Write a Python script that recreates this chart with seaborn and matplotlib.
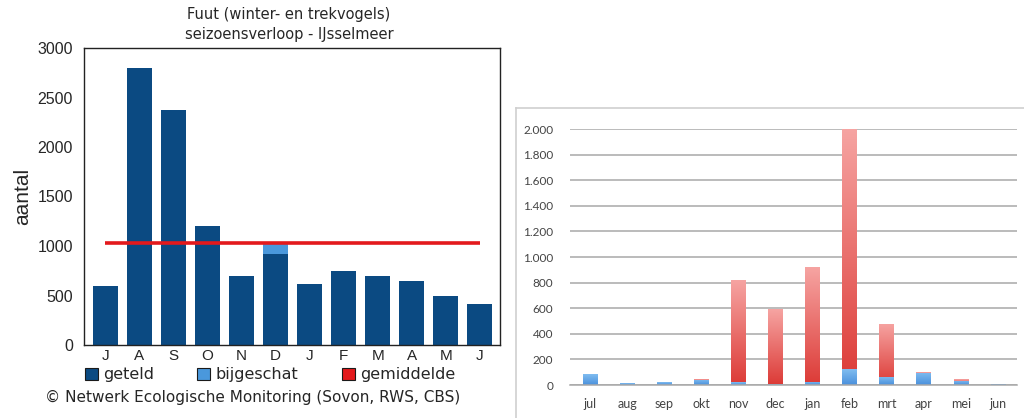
import numpy as np
import pandas as pd
import seaborn as sns
import matplotlib.pyplot as plt
from matplotlib.patches import Patch
from matplotlib.colors import LinearSegmentedColormap
from matplotlib.ticker import FuncFormatter, FixedLocator, MultipleLocator

# --- data -------------------------------------------------------------
months = ['jul', 'aug', 'sep', 'okt', 'nov', 'dec',
          'jan', 'feb', 'mrt', 'apr', 'mei', 'jun']
month_letters = [m[0].upper() for m in months]

# left chart: Fuut, IJsselmeer
geteld = [600, 2800, 2370, 1200, 700, 920, 615, 750, 700, 650, 500, 410]
bijgeschat = [0, 0, 0, 0, 0, 100, 0, 0, 0, 0, 0, 0]
gemiddelde = 1030

# right chart: stacked blue (bottom) + red (top)
right_blue = [85, 15, 20, 40, 20, 5, 25, 125, 65, 95, 35, 10]
right_red = [0, 0, 0, 10, 800, 585, 895, 1875, 415, 10, 10, 0]

left = pd.DataFrame({'month': months, 'geteld': geteld,
                     'totaal': np.add(geteld, bijgeschat)})
right = pd.DataFrame({'month': months, 'blue': right_blue,
                      'totaal': np.add(right_blue, right_red)})

sns.set_style('white')
plt.rcParams['font.family'] = ['DejaVu Sans']

dark_blue = '#0b4a82'
light_blue = '#4a98dc'
mean_red = '#e3191c'

fig = plt.figure(figsize=(10.24, 4.18), dpi=100)

# --- left chart -------------------------------------------------------
ax1 = fig.add_axes([84 / 1024, 1 - 345 / 418, 416 / 1024, 297 / 418])
sns.barplot(data=left, x='month', y='totaal', color=light_blue, width=0.73,
            saturation=1, linewidth=0, ax=ax1)
sns.barplot(data=left, x='month', y='geteld', color=dark_blue, width=0.73,
            saturation=1, linewidth=0, ax=ax1)
ax1.plot(range(len(months)), [gemiddelde] * len(months), color=mean_red,
         lw=2.6, zorder=3, solid_capstyle='butt')

ax1.set_xlim(-0.62, 11.59)
ax1.set_ylim(0, 3000)
ax1.yaxis.set_major_locator(MultipleLocator(500))
ax1.set_xticks(range(len(months)))
ax1.set_xticklabels(month_letters, family='Liberation Sans', fontsize=11)
ax1.xaxis.set_minor_locator(FixedLocator(np.arange(-0.5, 12, 1)))
ax1.tick_params(axis='x', which='major', length=0, pad=3)
ax1.tick_params(axis='x', which='minor', length=5, width=0.9,
                direction='inout', color='#333333')
ax1.tick_params(axis='y', length=6, width=0.9, direction='out',
                color='#333333', pad=2)
for lab in ax1.get_yticklabels():
    lab.set_family('Liberation Sans')
    lab.set_fontsize(11.5)
ax1.set_xlabel('')
ax1.set_ylabel('aantal', family='Liberation Sans', fontsize=15, labelpad=4)
for s in ax1.spines.values():
    s.set_color('#222222')
    s.set_linewidth(1.0)

fig.text(289 / 1024, 1 - 15 / 418, 'Fuut (winter- en trekvogels)',
         ha='center', va='center', fontsize=10.5)
fig.text(289 / 1024, 1 - 35 / 418, 'seizoensverloop - IJsselmeer',
         ha='center', va='center', fontsize=10.5)

handles = [Patch(facecolor=dark_blue, edgecolor='#1a1a1a', lw=0.8),
           Patch(facecolor=light_blue, edgecolor='#1a1a1a', lw=0.8),
           Patch(facecolor=mean_red, edgecolor='#1a1a1a', lw=0.8)]
fig.legend(handles, ['geteld', 'bijgeschat', 'gemiddelde'], ncol=3,
           loc='center left', bbox_to_anchor=(85 / 1024, 1 - 375 / 418),
           frameon=False, fontsize=11.5, handlelength=0.8, handleheight=0.8,
           handletextpad=0.35, columnspacing=2.7, borderaxespad=0,
           borderpad=0)
fig.text(45 / 1024, 1 - 397 / 418,
         '\u00a9 Netwerk Ecologische Monitoring (Sovon, RWS, CBS)',
         ha='left', va='center', fontsize=11)

# --- right chart ------------------------------------------------------
frame = fig.add_axes([516 / 1024, -0.1, 0.6, 1 - 108 / 418 + 0.1], zorder=0)
frame.set_xticks([])
frame.set_yticks([])
frame.patch.set_alpha(0)
for s in frame.spines.values():
    s.set_color('#cfcfcf')
    s.set_linewidth(1.2)

ax2 = fig.add_axes([570 / 1024, 1 - 385 / 418, 447 / 1024, 256 / 418],
                   zorder=1)
ax2.patch.set_alpha(0)
sns.barplot(data=right, x='month', y='totaal', color='#e8504c', width=0.4,
            saturation=1, linewidth=0, ax=ax2)
n_red = len(ax2.patches)
sns.barplot(data=right, x='month', y='blue', color='#5aa0e0', width=0.4,
            saturation=1, linewidth=0, ax=ax2)
red_bars = ax2.patches[:n_red]
blue_bars = ax2.patches[n_red:]

red_cmap = LinearSegmentedColormap.from_list('r', ['#dc3a36', '#f6a4a2'])
blue_cmap = LinearSegmentedColormap.from_list('b', ['#4a90dc', '#80bdf0'])


def fill_gradient(ax, bars, cmap, z):
    grad = np.linspace(0, 1, 256).reshape(-1, 1)
    for p in bars:
        x0, y0, w, h = p.get_x(), p.get_y(), p.get_width(), p.get_height()
        if h <= 0:
            continue
        im = ax.imshow(grad, cmap=cmap, origin='lower', aspect='auto',
                       extent=[x0, x0 + w, y0, y0 + h], zorder=z,
                       interpolation='bilinear')
        im.set_clip_path(p)
        p.set_facecolor('none')


fill_gradient(ax2, red_bars, red_cmap, 1.5)
for p in blue_bars:
    p.set_zorder(2)
fill_gradient(ax2, blue_bars, blue_cmap, 2.5)

ax2.set_xlim(-0.54, 11.51)
ax2.set_ylim(0, 2000)
ax2.yaxis.set_major_locator(MultipleLocator(200))
ax2.yaxis.set_major_formatter(
    FuncFormatter(lambda v, _: f'{int(v):,}'.replace(',', '.')))
ax2.grid(axis='y', color='#a8a8a8', lw=1.1, zorder=0)
ax2.set_axisbelow(True)
ax2.set_xticks(range(len(months)))
ax2.set_xticklabels(months)
ax2.xaxis.set_minor_locator(FixedLocator(np.arange(-0.5, 12, 1)))
ax2.tick_params(axis='x', which='major', length=0, pad=9,
                labelsize=9, labelcolor='#444444')
ax2.tick_params(axis='x', which='minor', length=4, width=0.9,
                direction='out', color='#a8a8a8')
ax2.tick_params(axis='y', length=0, pad=12, labelsize=8.5,
                labelcolor='#444444')
for lab in ax2.get_xticklabels() + ax2.get_yticklabels():
    lab.set_family('Lato')
ax2.set_xlabel('')
ax2.set_ylabel('')
for side in ['left', 'top', 'right']:
    ax2.spines[side].set_visible(False)
ax2.spines['bottom'].set_color('#a8a8a8')
ax2.spines['bottom'].set_linewidth(1.1)

fig.savefig('out.png', dpi=100)
